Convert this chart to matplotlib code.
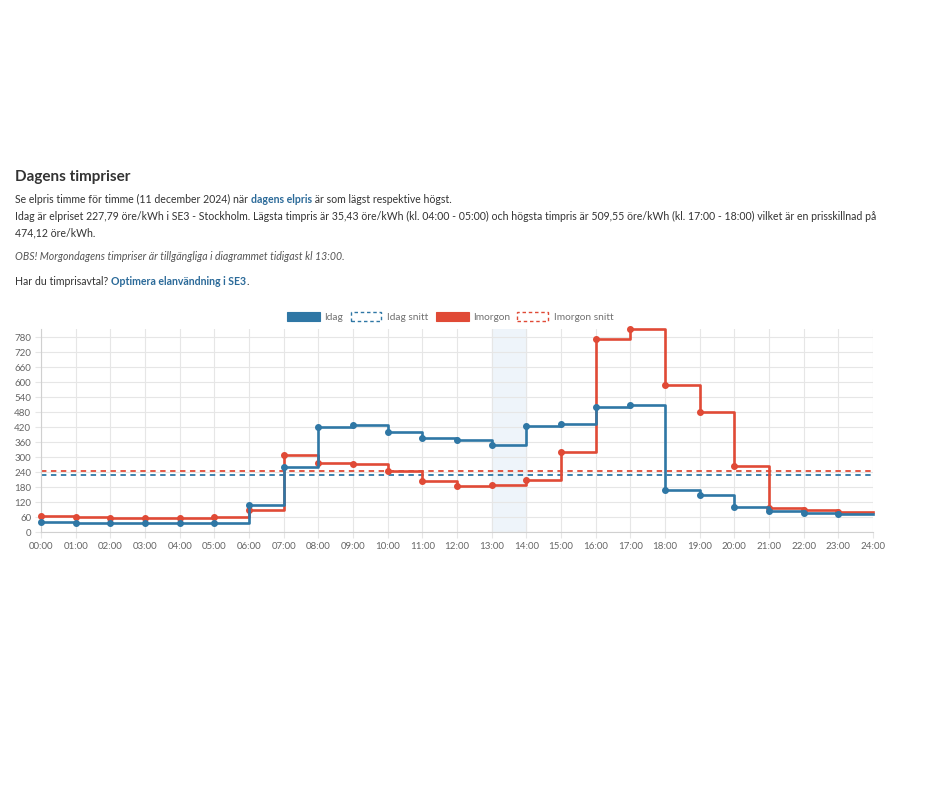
import matplotlib
matplotlib.use("Agg")
import matplotlib.pyplot as plt
from matplotlib.patches import Rectangle

# ---------------- data ----------------
hour_labels = [f"{h:02d}:00" for h in range(25)]
idag = [41.6, 36.0, 35.0, 35.0, 35.43, 37.6, 107, 259, 421, 431, 399, 377,
        368, 349, 424, 434, 501, 509.55, 168, 150, 99, 85, 78, 71]
imorgon = [64, 60, 58, 55, 56, 59, 89, 309, 275, 274, 246, 205,
           183, 187, 208, 322, 773, 814, 588, 483, 263, 95, 89, 81]
idag_snitt = 227.79
imorgon_snitt = 243.2
current_hour = 13
y_ticks = list(range(0, 781, 60))

legend_labels = ["Idag", "Idag snitt", "Imorgon", "Imorgon snitt"]

BLUE = "#2f77a5"
RED = "#e04a36"
TXT = "#333333"
LINK = "#2b6a99"
GRID = "#e6e6e6"
TICK = "#666666"
FONT = "Lato"

W, H = 940, 788
fig = plt.figure(figsize=(W / 100, H / 100), dpi=100)
fig.patch.set_facecolor("white")


def fx(px):
    return px / W


def fy(py):
    return 1 - py / H


renderer = fig.canvas.get_renderer()


def runs(x, y, parts, size, style="normal"):
    """Draw a sequence of (text, color, weight) pieces on one baseline."""
    for text, color, weight in parts:
        t = fig.text(fx(x), fy(y), text, fontsize=size, color=color,
                     fontweight=weight, fontstyle=style, family=FONT,
                     va="baseline", ha="left")
        bb = t.get_window_extent(renderer=renderer)
        x += bb.width


# ---------------- text block ----------------
fig.text(fx(15), fy(181), "Dagens timpriser", fontsize=11, fontweight="bold",
         color=TXT, family=FONT, va="baseline")

line2 = ("Idag är elpriset 227,79 öre/kWh i SE3 - Stockholm. Lägsta timpris är 35,43 öre/kWh "
         "(kl. 04:00 - 05:00) och högsta timpris är 509,55 öre/kWh (kl. 17:00 - 18:00) vilket är en prisskillnad på")
# fit body font size to the reference line width
probe = fig.text(0, 0, line2, fontsize=10, family=FONT)
wid = probe.get_window_extent(renderer=renderer).width
probe.remove()
bs = 10 * 861 / wid

runs(15, 203, [("Se elpris timme för timme (11 december 2024) när ", TXT, "normal"),
               ("dagens elpris", LINK, "bold"),
               (" är som lägst respektive högst.", TXT, "normal")], bs)
runs(15, 220, [(line2, TXT, "normal")], bs)
runs(15, 236, [("474,12 öre/kWh.", TXT, "normal")], bs)
runs(15, 260, [("OBS! Morgondagens timpriser är tillgängliga i diagrammet tidigast kl 13:00.", "#555555", "normal")],
     bs, style="italic")
runs(15, 285, [("Har du timprisavtal? ", TXT, "normal"),
               ("Optimera elanvändning i SE3", LINK, "bold"),
               (".", TXT, "normal")], bs)

# ---------------- chart ----------------
ax_l, ax_r, ax_t, ax_b = 41, 873, 329, 532
ax = fig.add_axes([fx(ax_l), fy(ax_b), fx(ax_r - ax_l), (ax_b - ax_t) / H])

x_edges = list(range(len(idag) + 1))
x_pts = list(range(len(idag)))

ax.axvspan(current_hour, current_hour + 1, color="#eef4fa", zorder=0)

ax.axhline(imorgon_snitt, color=RED, lw=1.3, ls=(0, (3, 2.5)), zorder=2)
ax.axhline(idag_snitt, color=BLUE, lw=1.3, ls=(0, (3, 2.5)), zorder=2)

ax.step(x_edges, imorgon + [imorgon[-1]], where="post", color=RED, lw=1.9,
        zorder=3, clip_on=False)
ax.plot(x_pts, imorgon, "o", color=RED, ms=4.0, zorder=3, clip_on=False)
ax.step(x_edges, idag + [idag[-1]], where="post", color=BLUE, lw=1.9,
        zorder=4, clip_on=False)
ax.plot(x_pts, idag, "o", color=BLUE, ms=4.0, zorder=4, clip_on=False)

ax.set_xlim(0, 24)
ax.set_ylim(0, max(imorgon))
ax.set_xticks(range(25))
ax.set_xticklabels(hour_labels)
ax.set_yticks(y_ticks)
ax.set_yticklabels([str(v) for v in y_ticks])
ax.grid(True, color=GRID, lw=0.8, zorder=1)
ax.set_axisbelow(True)
for s in ["top", "right"]:
    ax.spines[s].set_visible(False)
for s in ["left", "bottom"]:
    ax.spines[s].set_color("#d0d0d0")
    ax.spines[s].set_linewidth(0.8)
ax.tick_params(axis="both", length=4, color=GRID, labelsize=7,
               labelcolor=TICK, pad=3)
for lbl in ax.get_xticklabels() + ax.get_yticklabels():
    lbl.set_family(FONT)
ax.set_facecolor("white")

# ---------------- legend ----------------
box_h = 9
ly = 316
items = [(287, 33, BLUE, True, legend_labels[0], 324),
         (351, 30, BLUE, False, legend_labels[1], 387),
         (436, 33, RED, True, legend_labels[2], 473),
         (517, 31, RED, False, legend_labels[3], 554)]
for bx, bw, col, filled, lab, tx in items:
    if filled:
        fig.patches.append(Rectangle((fx(bx), fy(ly + box_h / 2)), fx(bw), box_h / H,
                                     transform=fig.transFigure, facecolor=col,
                                     edgecolor=col, lw=0.8, figure=fig))
    else:
        fig.patches.append(Rectangle((fx(bx), fy(ly + box_h / 2)), fx(bw), box_h / H,
                                     transform=fig.transFigure, facecolor="white",
                                     edgecolor=col, lw=1.0, ls=(0, (2.5, 2)), figure=fig))
    fig.text(fx(tx), fy(ly), lab, fontsize=7.3, color="#707070", family=FONT,
             va="center_baseline", ha="left")

fig.savefig("out.png", dpi=100, facecolor="white")
